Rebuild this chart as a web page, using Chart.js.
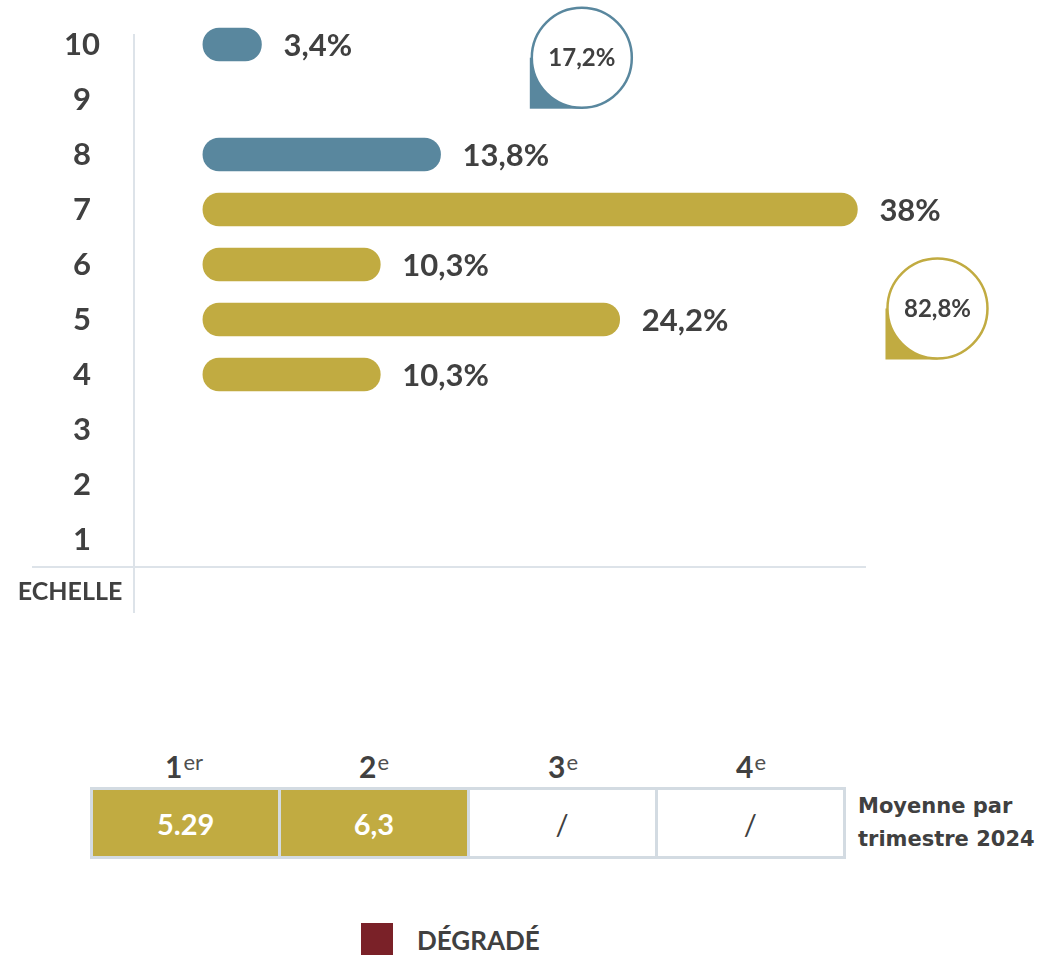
<!DOCTYPE html>
<html>
<head>
<meta charset="utf-8">
<script src="https://cdn.jsdelivr.net/npm/chart.js@4/dist/chart.umd.min.js"></script>
<style>
  html,body{margin:0;padding:0;background:#fff;}
  #wrap{position:relative;width:1049px;height:955px;overflow:hidden;font-family:Lato,"Open Sans",sans-serif;color:#404040;}
  #c{position:absolute;left:0;top:0;}
  .qh{position:absolute;top:748px;width:186px;text-align:center;font-weight:700;font-size:30px;line-height:36px;color:#404040;}
  .qh sup{font-weight:400;font-size:22px;vertical-align:top;position:relative;top:-4px;margin-left:1px;color:#505050;}
  #grid{position:absolute;left:90px;top:787px;width:750px;height:66px;padding:3px;background:#d3dbe2;display:flex;gap:3px;}
  .cell{flex:1;display:flex;align-items:center;justify-content:center;font-size:29px;background:#fff;color:#404040;}
  .cell.filled{background:#c1ab41;color:#fff;font-weight:700;}
  #note{position:absolute;left:858px;top:790px;font-family:"DejaVu Sans",sans-serif;font-weight:700;font-size:21px;line-height:33px;color:#404040;}
  #legend{position:absolute;left:361px;top:922px;display:flex;align-items:center;}
  #legend .sw{width:32px;height:33px;background:#7a2128;}
  #legend .lt{margin-left:24px;font-weight:700;font-size:26px;color:#404040;margin-top:2px;}
</style>
</head>
<body>
<div id="wrap">
  <canvas id="c" width="1049" height="640" style="width:1049px;height:640px"></canvas>
  <div id="heads"></div>
  <div id="grid"></div>
  <div id="note"></div>
  <div id="legend"><div class="sw"></div><div class="lt"></div></div>
</div>
<script>
// ---- data ----
const scores = ['10','9','8','7','6','5','4','3','2','1'];
const percentages = [3.4, null, 13.8, 38, 10.3, 24.2, 10.3, null, null, null];
const percentLabels = ['3,4%', '', '13,8%', '38%', '10,3%', '24,2%', '10,3%', '', '', ''];
const groupTotals = ['17,2%', '82,8%'];
const scaleTitle = 'ECHELLE';
const quarterNums = ['1','2','3','4'];
const quarterSuffix = ['er','e','e','e'];
const quarterAverages = ['5.29','6,3','/','/'];
const averagesNote = ['Moyenne par', 'trimestre 2024'];
const legendLabel = 'DÉGRADÉ';

// ---- colors ----
const BLUE = '#59879e', GOLD = '#c1ab41', RED = '#7a2128', TEXT = '#404040', LINE = '#dde3e9';
const barColors = scores.map(s => { const n = +s; return n >= 8 ? BLUE : (n >= 4 ? GOLD : RED); });

const deco = {
  id: 'deco',
  beforeDatasetsDraw(chart) {
    const {ctx, chartArea: ca} = chart;
    ctx.save();
    ctx.strokeStyle = LINE; ctx.lineWidth = 2;
    ctx.beginPath(); ctx.moveTo(ca.left, 34); ctx.lineTo(ca.left, 613); ctx.stroke();
    ctx.beginPath(); ctx.moveTo(32, ca.bottom); ctx.lineTo(ca.right, ca.bottom); ctx.stroke();
    ctx.fillStyle = TEXT; ctx.font = 'bold 25px Lato'; ctx.textAlign = 'center'; ctx.textBaseline = 'middle';
    ctx.fillText(scaleTitle, 70, ca.bottom + 25);
    ctx.restore();
  },
  afterDatasetsDraw(chart) {
    const {ctx, scales: {x, y}} = chart;
    const meta = chart.getDatasetMeta(0);
    ctx.save();
    ctx.fillStyle = TEXT; ctx.font = 'bold 31px Lato'; ctx.textAlign = 'left'; ctx.textBaseline = 'middle';
    meta.data.forEach((bar, i) => {
      if (percentages[i] == null) return;
      ctx.fillText(percentLabels[i], bar.x + 22, bar.y + 1);
    });
    const bubble = (cx, cy, color, text) => {
      const r = 50;
      ctx.fillStyle = color;
      ctx.fillRect(cx - r - 2, cy, r + 2, r + 1);
      ctx.beginPath(); ctx.arc(cx, cy, r, 0, Math.PI * 2);
      ctx.fillStyle = '#fff'; ctx.fill();
      ctx.lineWidth = 2.5; ctx.strokeStyle = color; ctx.stroke();
      ctx.fillStyle = TEXT; ctx.font = 'bold 24px Lato'; ctx.textAlign = 'center'; ctx.textBaseline = 'middle';
      ctx.fillText(text, cx, cy + 1);
    };
    bubble(x.getPixelForValue(22), y.getPixelForValue(0.24), BLUE, groupTotals[0]);
    bubble(x.getPixelForValue(42.65), y.getPixelForValue(4.8), GOLD, groupTotals[1]);
    ctx.restore();
  }
};

new Chart(document.getElementById('c'), {
  type: 'bar',
  data: {
    labels: scores,
    datasets: [{
      data: percentages,
      backgroundColor: barColors,
      borderRadius: 17,
      borderSkipped: false,
      barThickness: 33
    }]
  },
  options: {
    indexAxis: 'y',
    responsive: false,
    animation: false,
    layout: { padding: { top: 17, bottom: 73, left: 0, right: 183 } },
    plugins: { legend: { display: false }, tooltip: { enabled: false } },
    scales: {
      x: { display: false, min: -4, max: 38.5 },
      y: {
        position: 'left',
        grid: { display: false },
        border: { display: false },
        ticks: {
          crossAlign: 'center',
          padding: 26,
          color: TEXT,
          font: { family: 'Lato', weight: 'bold', size: 31 }
        },
        afterFit(s) { s.width = 134; s.paddingTop = 0; s.paddingBottom = 0; }
      }
    }
  },
  plugins: [deco]
});

// ---- table & legend (HTML text) ----
const heads = document.getElementById('heads');
const colLeft = [91, 281, 470, 658];
quarterNums.forEach((n, i) => {
  const d = document.createElement('div');
  d.className = 'qh';
  d.style.left = colLeft[i] + 'px';
  d.innerHTML = n + '<sup>' + quarterSuffix[i] + '</sup>';
  heads.appendChild(d);
});
const grid = document.getElementById('grid');
quarterAverages.forEach(v => {
  const c = document.createElement('div');
  c.className = 'cell' + (v !== '/' ? ' filled' : '');
  c.textContent = v;
  grid.appendChild(c);
});
document.getElementById('note').innerHTML = averagesNote.join('<br>');
document.querySelector('#legend .lt').textContent = legendLabel;
</script>
</body>
</html>
